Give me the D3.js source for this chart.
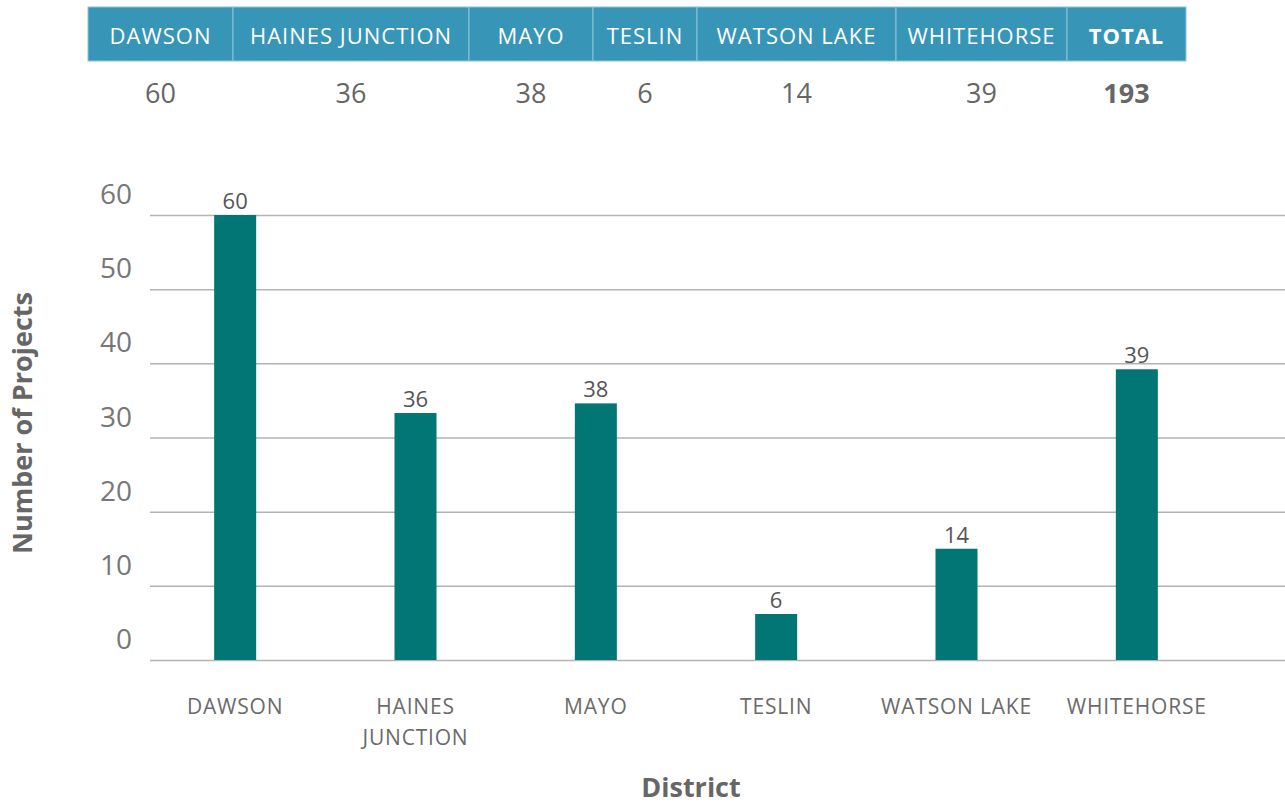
<!DOCTYPE html>
<html>
<head>
<meta charset="utf-8">
<script src="https://cdn.jsdelivr.net/npm/d3@7"></script>
<style>
  body { margin: 0; background: #fff; font-family: "Open Sans", sans-serif; }
  .grid line { stroke: #b3b3b3; stroke-width: 1.5; }
  .grid .domain { display: none; }
</style>
</head>
<body>
<div id="chart"></div>
<script>
// districts and project counts
const districts = ['DAWSON', 'HAINES JUNCTION', 'MAYO', 'TESLIN', 'WATSON LAKE', 'WHITEHORSE'];
const axisLabels = [['DAWSON'], ['HAINES', 'JUNCTION'], ['MAYO'], ['TESLIN'], ['WATSON LAKE'], ['WHITEHORSE']];
const counts = [60, 36, 38, 6, 14, 39];
// bar heights as drawn in the picture (they don't all match the printed counts)
const barHeights = [60, 33.3, 34.6, 6.2, 15, 39.2];
const yTicks = [0, 10, 20, 30, 40, 50, 60];
const tableCols = [88, 233, 469, 593, 697, 896, 1067, 1186];

const W = 1285, H = 806;
const svg = d3.select('#chart').append('svg').attr('width', W).attr('height', H);

// ---- summary table on top
const headers = districts.concat(['TOTAL']);
const values = counts.concat([d3.sum(counts)]);

const cells = svg.append('g').selectAll('g').data(headers).enter().append('g');
cells.append('rect')
  .attr('x', (d, i) => tableCols[i])
  .attr('y', 7)
  .attr('width', (d, i) => tableCols[i + 1] - tableCols[i])
  .attr('height', 54)
  .attr('fill', '#3795b8')
  .attr('stroke', '#8cc3d6')
  .attr('stroke-width', 1);
cells.append('text')
  .attr('x', (d, i) => (tableCols[i] + tableCols[i + 1]) / 2)
  .attr('y', 44)
  .attr('text-anchor', 'middle')
  .attr('fill', '#fff')
  .attr('font-size', 22)
  .attr('letter-spacing', 1)
  .attr('font-weight', d => d === 'TOTAL' ? 700 : 500)
  .text(d => d);
cells.append('text')
  .attr('x', (d, i) => (tableCols[i] + tableCols[i + 1]) / 2)
  .attr('y', 103)
  .attr('text-anchor', 'middle')
  .attr('fill', '#666')
  .attr('font-size', 27)
  .attr('font-weight', (d, i) => d === 'TOTAL' ? 700 : 400)
  .text((d, i) => values[i]);

// ---- bar chart
const x = d3.scaleBand().domain(districts).range([145, 1227]).paddingInner(0.767).paddingOuter(0.3835);
const y = d3.scaleLinear().domain([0, 60]).range([660, 215]);

// gridlines
svg.append('g').attr('class', 'grid')
  .attr('transform', 'translate(150,0)')
  .call(d3.axisLeft(y).tickValues(yTicks).tickSize(-(W - 150)).tickFormat(''));

// y tick labels (sit above their gridline)
svg.append('g').selectAll('text').data(yTicks).enter().append('text')
  .attr('x', 132)
  .attr('y', d => y(d) - 11)
  .attr('text-anchor', 'end')
  .attr('fill', '#777')
  .attr('font-size', 28)
  .text(d => d);

svg.append('g').selectAll('rect').data(districts).enter().append('rect')
  .attr('x', d => x(d))
  .attr('y', (d, i) => y(barHeights[i]))
  .attr('width', x.bandwidth())
  .attr('height', (d, i) => y(0) - y(barHeights[i]))
  .attr('fill', '#027575');

svg.append('g').selectAll('text').data(districts).enter().append('text')
  .attr('x', d => x(d) + x.bandwidth() / 2)
  .attr('y', (d, i) => y(barHeights[i]) - 6)
  .attr('text-anchor', 'middle')
  .attr('fill', '#555')
  .attr('font-size', 22)
  .text((d, i) => counts[i]);

// x category labels
const xl = svg.append('g').selectAll('text').data(districts).enter().append('text')
  .attr('text-anchor', 'middle')
  .attr('fill', '#6b6b6b')
  .attr('font-size', 21)
  .attr('letter-spacing', 0.8)
  .attr('y', 714);
xl.selectAll('tspan').data((d, i) => axisLabels[i]).enter().append('tspan')
  .attr('x', function() { const d = d3.select(this.parentNode).datum(); return x(d) + x.bandwidth() / 2; })
  .attr('dy', (d, i) => i === 0 ? 0 : 31)
  .text(d => d);

// axis titles
svg.append('text')
  .attr('transform', 'translate(32,423) rotate(-90)')
  .attr('text-anchor', 'middle')
  .attr('fill', '#666')
  .attr('font-size', 27)
  .attr('font-weight', 700)
  .text('Number of Projects');

svg.append('text')
  .attr('x', 691)
  .attr('y', 797)
  .attr('text-anchor', 'middle')
  .attr('fill', '#666')
  .attr('font-size', 27)
  .attr('font-weight', 700)
  .text('District');
</script>
</body>
</html>
